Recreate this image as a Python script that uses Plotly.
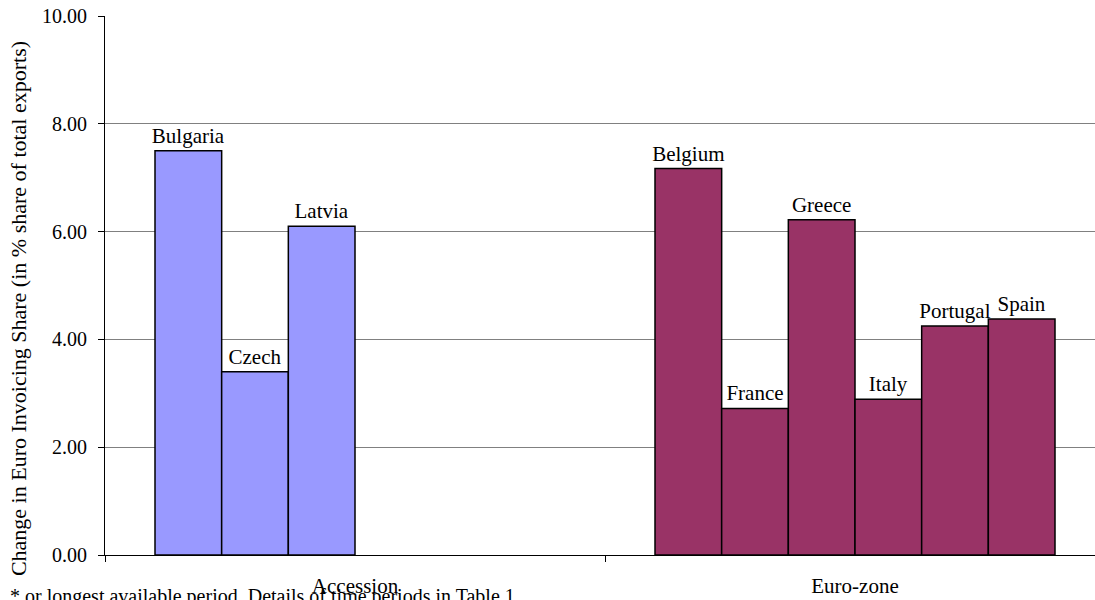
import plotly.graph_objects as go

groups = ["Accession", "Euro-zone"]
# slot k holds the k-th country of each group (Accession has only 3)
slot_names = [
    ["Bulgaria", "Belgium"],
    ["Czech", "France"],
    ["Latvia", "Greece"],
    [None, "Italy"],
    [None, "Portugal"],
    [None, "Spain"],
]
slot_values = [
    [7.50, 7.17],
    [3.40, 2.72],
    [6.10, 6.22],
    [None, 2.89],
    [None, 4.25],
    [None, 4.38],
]
group_colors = ["#9999FF", "#993366"]
y_ticks = [0, 2, 4, 6, 8, 10]

FONT = "Liberation Serif"

fig = go.Figure()
for names, vals in zip(slot_names, slot_values):
    fig.add_trace(go.Bar(
        x=groups,
        y=vals,
        text=[n if n else "" for n in names],
        textposition="outside",
        constraintext="none",
        cliponaxis=False,
        textfont=dict(family=FONT, size=21, color="black"),
        marker=dict(color=group_colors, line=dict(color="black", width=1.5)),
        showlegend=False,
    ))

fig.add_annotation(
    text="* or longest available period. Details of time periods in Table 1",
    xref="paper", yref="paper", x=-0.098, y=-0.052,
    xanchor="left", yanchor="top", showarrow=False,
    font=dict(family=FONT, size=20, color="black"),
)
fig.add_annotation(
    text="Change in Euro Invoicing Share (in % share of total exports)",
    xref="paper", yref="paper", x=-0.0879, y=0.458,
    xanchor="center", yanchor="middle", textangle=-90, showarrow=False,
    font=dict(family=FONT, size=22, color="black"),
)

fig.update_layout(
    width=1095, height=600,
    margin=dict(l=105, r=0, t=16, b=45),
    paper_bgcolor="white", plot_bgcolor="white",
    barmode="group", bargap=0.2, bargroupgap=0,
    font=dict(family=FONT, size=20, color="black"),
    xaxis=dict(
        type="category", range=[-0.5, 1.48], automargin=False,
        showline=True, linecolor="black", linewidth=1,
        ticks="outside", tickson="boundaries", ticklen=6, tickcolor="black",
        showgrid=False, tickfont=dict(family=FONT, size=21),
        ticklabelstandoff=12,
    ),
    yaxis=dict(
        range=[0, 10], tickvals=y_ticks, tickformat=".2f", automargin=False,
        showline=True, linecolor="black", linewidth=1,
        ticks="outside", ticklen=6, tickcolor="black",
        showgrid=True, gridcolor="#808080", gridwidth=1,
        zeroline=False, ticklabelstandoff=7,
        tickfont=dict(family=FONT, size=20),
    ),
)

fig.write_html("out.html", config={"displayModeBar": False},
               post_script="document.body.style.margin='0px';")
